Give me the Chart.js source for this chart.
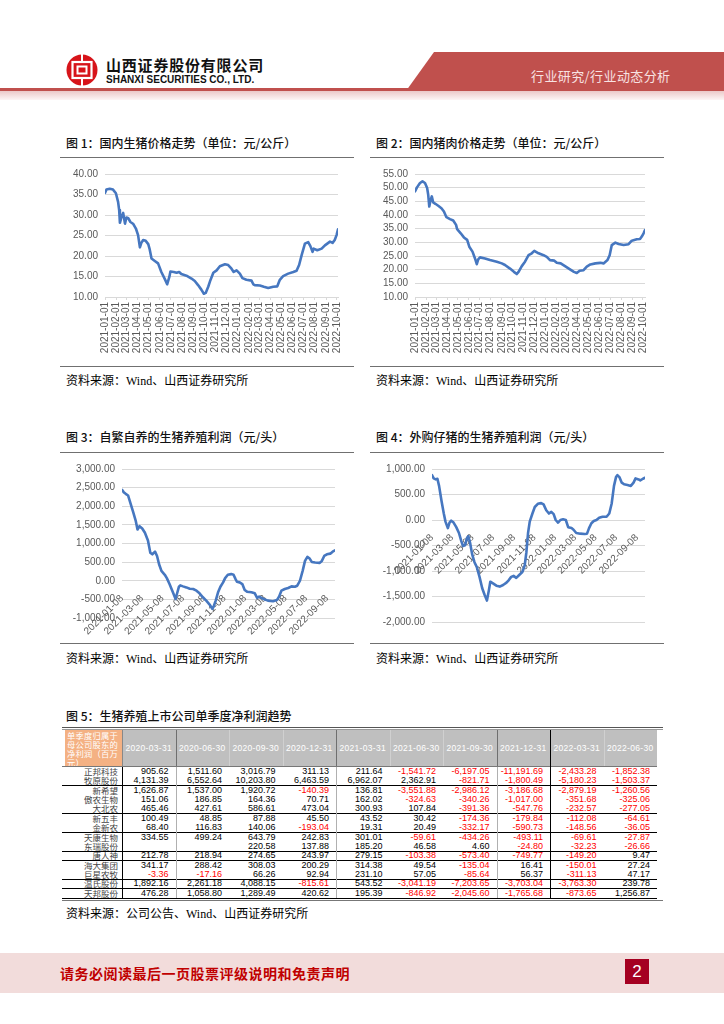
<!DOCTYPE html>
<html><head><meta charset="utf-8">
<script src="https://cdn.jsdelivr.net/npm/chart.js@4.4.1/dist/chart.umd.min.js"></script>
<style>
html,body{margin:0;padding:0}
body{width:724px;height:1024px;position:relative;background:#fff;font-family:"Noto Sans CJK SC",sans-serif;overflow:hidden}
.abs{position:absolute}
.ftitle{position:absolute;font-size:12px;color:#111;line-height:14px;white-space:nowrap;font-weight:500}
.hline{position:absolute;height:1px;background:#707070}
.src{position:absolute;font-size:12px;line-height:14px;font-family:"Liberation Serif","Noto Sans CJK SC",serif;white-space:nowrap;color:#000}
canvas{position:absolute}
.cell{position:absolute;box-sizing:border-box;white-space:nowrap;overflow:visible}
</style></head>
<body>
<!-- header -->
<svg class="abs" style="left:0;top:0" width="724" height="110">
  <defs>
    <linearGradient id="pg" x1="0" y1="0" x2="0" y2="1">
      <stop offset="0" stop-color="#ebc9c9"/><stop offset="1" stop-color="#fdf6f6"/>
    </linearGradient>
  </defs>
  <rect x="0" y="91" width="724" height="9" fill="url(#pg)"/>
  <rect x="0" y="88" width="410" height="3" fill="#c0504d"/>
  <polygon points="434,52 724,52 724,91 406,91" fill="#c0504d"/>
  <g transform="translate(66,54)">
    <circle cx="16" cy="16" r="15.5" fill="#d7141a"/>
    <rect x="6.5" y="8" width="19" height="16" fill="none" stroke="#fff" stroke-width="2.2"/>
    <rect x="11.5" y="12.5" width="9" height="7" fill="none" stroke="#fff" stroke-width="2"/>
    <line x1="16" y1="0" x2="16" y2="8" stroke="#fff" stroke-width="2"/>
    <line x1="16" y1="24" x2="16" y2="32" stroke="#fff" stroke-width="2"/>
  </g>
</svg>
<div class="abs" style="left:106px;top:56px;font-size:15px;font-weight:bold;letter-spacing:0.8px;color:#111;line-height:17px;white-space:nowrap">山西证券股份有限公司</div>
<div class="abs" style="left:106px;top:74px;font-size:10px;font-weight:bold;font-family:'Liberation Sans',Arial,sans-serif;color:#111;line-height:12px;white-space:nowrap">SHANXI SECURITIES CO., LTD.</div>
<div class="abs" style="left:531px;top:67px;font-size:13px;color:#f8e2e2;line-height:17px;letter-spacing:0.4px;white-space:nowrap">行业研究/行业动态分析</div>

<!-- chart titles -->
<div class="ftitle" style="left:66px;top:136px">图 1：国内生猪价格走势（单位：元/公斤）</div>
<div class="hline" style="left:60px;top:157px;width:294px"></div>
<div class="hline" style="left:60px;top:366px;width:294px"></div>
<div class="src" style="left:66px;top:374px">资料来源：Wind、山西证券研究所</div>

<div class="ftitle" style="left:376px;top:136px">图 2：国内猪肉价格走势（单位：元/公斤）</div>
<div class="hline" style="left:370px;top:157px;width:294px"></div>
<div class="hline" style="left:370px;top:366px;width:294px"></div>
<div class="src" style="left:376px;top:374px">资料来源：Wind、山西证券研究所</div>

<div class="ftitle" style="left:66px;top:430px">图 3：自繁自养的生猪养殖利润（元/头）</div>
<div class="hline" style="left:60px;top:452px;width:294px"></div>
<div class="hline" style="left:60px;top:643px;width:294px"></div>
<div class="src" style="left:66px;top:652px">资料来源：Wind、山西证券研究所</div>

<div class="ftitle" style="left:376px;top:430px">图 4：外购仔猪的生猪养殖利润（元/头）</div>
<div class="hline" style="left:370px;top:452px;width:294px"></div>
<div class="hline" style="left:370px;top:643px;width:294px"></div>
<div class="src" style="left:376px;top:652px">资料来源：Wind、山西证券研究所</div>

<canvas id="c1" width="295" height="200" style="left:60px;top:160px"></canvas>
<canvas id="c2" width="295" height="200" style="left:370px;top:160px"></canvas>
<canvas id="c3" width="295" height="180" style="left:60px;top:455px"></canvas>
<canvas id="c4" width="295" height="180" style="left:370px;top:455px"></canvas>

<div class="ftitle" style="left:66px;top:709px">图 5：生猪养殖上市公司单季度净利润趋势</div>
<div id="tbl"></div>
<div class="src" style="left:66px;top:907px">资料来源：公司公告、Wind、山西证券研究所</div>

<!-- footer -->
<div class="abs" style="left:0;top:953px;width:724px;height:40px;background:#f2dcdb"></div>
<div class="abs" style="left:60px;top:963px;font-size:14px;font-weight:bold;color:#c00000;line-height:20px;letter-spacing:0.5px;white-space:nowrap">请务必阅读最后一页股票评级说明和免责声明</div>
<div class="abs" style="left:625px;top:959px;width:24px;height:25px;background:#a50021;color:#fff;font-size:17px;line-height:25px;text-align:center;font-family:'Liberation Sans',Arial,sans-serif">2</div>

<script>
// ---------------- data ----------------
const monthTicks = ['2021-01-01','2021-02-01','2021-03-01','2021-04-01','2021-05-01','2021-06-01','2021-07-01','2021-08-01','2021-09-01','2021-10-01','2021-11-01','2021-12-01','2022-01-01','2022-02-01','2022-03-01','2022-04-01','2022-05-01','2022-06-01','2022-07-01','2022-08-01','2022-09-01','2022-10-01'];
const profitTicks = ['2021-01-08','2021-03-08','2021-05-08','2021-07-08','2021-09-08','2021-11-08','2022-01-08','2022-03-08','2022-05-08','2022-07-08','2022-09-08'];

// Fig 1: live hog price (yuan/kg)
const hogDates = ['2021-01-01','2021-01-05','2021-01-14','2021-01-23','2021-01-31','2021-02-06','2021-02-09','2021-02-11','2021-02-15','2021-02-20','2021-02-25','2021-03-01','2021-03-06','2021-03-12','2021-03-20','2021-03-27','2021-04-02','2021-04-07','2021-04-11','2021-04-16','2021-04-23','2021-04-30','2021-05-04','2021-05-09','2021-05-18','2021-05-27','2021-06-05','2021-06-15','2021-06-21','2021-06-27','2021-06-30','2021-07-09','2021-07-17','2021-07-24','2021-07-30','2021-08-13','2021-08-27','2021-09-05','2021-09-14','2021-09-23','2021-09-30','2021-10-05','2021-10-12','2021-10-18','2021-10-26','2021-11-04','2021-11-13','2021-11-27','2021-12-06','2021-12-15','2021-12-21','2021-12-29','2022-01-07','2022-01-14','2022-01-25','2022-02-08','2022-02-13','2022-02-17','2022-03-03','2022-03-14','2022-03-26','2022-04-09','2022-04-20','2022-04-27','2022-05-06','2022-05-20','2022-06-03','2022-06-12','2022-06-19','2022-06-26','2022-07-05','2022-07-14','2022-07-20','2022-07-26','2022-07-29','2022-08-08','2022-08-20','2022-08-29','2022-09-12','2022-09-19','2022-09-25','2022-09-30','2022-10-04'];
const hogPrices = [35.4,36.2,36.4,36.2,35.3,33.2,31.2,28.1,29.4,30.5,27.9,29.4,29.2,28.3,27.8,26.7,25.1,22.1,23.2,23.9,23.7,22.9,21.6,19.4,18.8,18.2,16.1,14.3,13.1,14.9,16.2,16.1,15.9,16.1,15.6,15.2,14.5,13.9,12.9,11.8,10.8,11.0,12.5,14.1,15.9,16.5,17.5,18.0,17.8,16.9,16.1,16.5,15.7,14.6,14.2,14.0,13.1,12.9,12.8,12.5,12.2,12.5,12.6,14.2,15.1,15.7,16.1,16.4,17.8,20.2,23.0,23.4,22.4,21.0,21.8,21.4,21.8,22.6,23.5,23.2,23.9,25.1,26.5];

// Fig 2: pork price (yuan/kg)
const porkDates = ['2021-01-01','2021-01-07','2021-01-15','2021-01-22','2021-01-29','2021-02-04','2021-02-07','2021-02-10','2021-02-13','2021-02-17','2021-02-21','2021-02-27','2021-03-07','2021-03-16','2021-03-23','2021-03-30','2021-04-09','2021-04-18','2021-04-26','2021-04-29','2021-05-09','2021-05-18','2021-05-27','2021-06-02','2021-06-11','2021-06-18','2021-06-23','2021-06-27','2021-07-02','2021-07-16','2021-07-30','2021-08-18','2021-09-01','2021-09-10','2021-09-24','2021-10-05','2021-10-13','2021-10-18','2021-10-27','2021-11-05','2021-11-15','2021-11-24','2021-12-01','2021-12-13','2021-12-27','2022-01-05','2022-01-14','2022-01-26','2022-02-02','2022-02-13','2022-02-25','2022-03-11','2022-03-22','2022-03-30','2022-04-07','2022-04-18','2022-04-27','2022-05-07','2022-05-21','2022-06-04','2022-06-13','2022-06-24','2022-06-30','2022-07-06','2022-07-16','2022-07-25','2022-08-08','2022-08-22','2022-08-31','2022-09-14','2022-09-23','2022-09-28','2022-10-03','2022-10-07'];
const porkPrices = [48.6,50.2,51.7,52.3,51.7,49.9,47.4,43.1,45.0,46.8,44.6,44.1,43.4,42.5,41.3,39.2,38.5,38.0,36.4,34.8,33.3,31.8,30.9,28.4,26.6,24.1,22.0,23.8,24.5,24.1,23.5,22.9,22.3,21.7,20.4,19.2,18.4,19.2,21.3,22.9,25.3,26.0,26.9,26.0,25.3,24.7,23.5,23.3,22.5,22.3,21.3,20.1,19.2,18.8,19.6,19.8,21.1,21.9,22.3,22.5,22.3,23.5,25.3,29.0,29.9,29.4,29.0,29.3,30.6,31.1,31.2,32.1,33.3,34.5];

// Fig 3: self-bred profit (yuan/head)
const selfDates = ['2021-01-08','2021-01-13','2021-01-19','2021-01-26','2021-02-02','2021-02-10','2021-02-18','2021-02-23','2021-03-01','2021-03-09','2021-03-17','2021-03-26','2021-04-02','2021-04-08','2021-04-16','2021-04-22','2021-04-28','2021-05-05','2021-05-15','2021-05-21','2021-05-29','2021-06-08','2021-06-16','2021-06-20','2021-06-26','2021-06-30','2021-07-08','2021-07-18','2021-07-28','2021-08-07','2021-08-17','2021-08-26','2021-09-05','2021-09-15','2021-09-25','2021-10-03','2021-10-07','2021-10-13','2021-10-20','2021-10-27','2021-11-04','2021-11-10','2021-11-18','2021-11-28','2021-12-05','2021-12-11','2021-12-15','2021-12-23','2021-12-31','2022-01-07','2022-01-14','2022-01-27','2022-02-06','2022-02-13','2022-02-19','2022-02-26','2022-03-04','2022-03-17','2022-04-01','2022-04-13','2022-04-19','2022-04-26','2022-05-06','2022-05-16','2022-05-26','2022-06-05','2022-06-12','2022-06-20','2022-06-28','2022-07-05','2022-07-12','2022-07-18','2022-07-25','2022-08-04','2022-08-17','2022-08-24','2022-08-31','2022-09-08','2022-09-18','2022-09-25','2022-10-02'];
const selfProfit = [2441,2379,2334,2290,2086,1846,1598,1376,1465,1402,1287,1083,754,710,781,666,444,266,160,71,-89,-311,-488,-355,-160,-124,-151,-178,-213,-222,-266,-337,-444,-533,-639,-754,-692,-533,-311,-160,-44,71,160,178,160,44,-27,-44,-89,-249,-293,-311,-337,-462,-426,-462,-488,-533,-550,-515,-426,-266,-222,-195,-151,-160,-133,0,266,533,639,604,506,488,479,533,666,710,728,781,817];

// Fig 4: purchased-piglet profit (yuan/head)
const buyDates = ['2021-01-08','2021-01-13','2021-01-19','2021-01-24','2021-01-29','2021-02-05','2021-02-12','2021-02-17','2021-02-24','2021-03-01','2021-03-06','2021-03-13','2021-03-21','2021-03-29','2021-04-05','2021-04-10','2021-04-16','2021-04-22','2021-04-26','2021-05-01','2021-05-07','2021-05-14','2021-05-21','2021-05-29','2021-06-06','2021-06-13','2021-06-20','2021-06-26','2021-06-30','2021-07-08','2021-07-18','2021-07-28','2021-08-07','2021-08-17','2021-08-24','2021-08-31','2021-09-07','2021-09-15','2021-09-23','2021-10-03','2021-10-10','2021-10-15','2021-10-20','2021-10-25','2021-11-02','2021-11-09','2021-11-18','2021-11-28','2021-12-05','2021-12-13','2021-12-21','2021-12-28','2022-01-04','2022-01-10','2022-01-17','2022-01-24','2022-02-01','2022-02-09','2022-02-16','2022-02-26','2022-03-04','2022-03-12','2022-03-24','2022-04-06','2022-04-13','2022-04-19','2022-04-26','2022-05-03','2022-05-11','2022-05-19','2022-05-29','2022-06-10','2022-06-18','2022-06-25','2022-07-02','2022-07-08','2022-07-12','2022-07-18','2022-07-25','2022-08-01','2022-08-11','2022-08-21','2022-08-29','2022-09-04','2022-09-13','2022-09-18','2022-09-26','2022-10-02'];
const buyProfit = [879,815,796,809,669,382,127,-32,-159,-51,-13,-51,-140,-255,-414,-510,-497,-350,-318,-446,-669,-828,-924,-1115,-1338,-1465,-1580,-1370,-1210,-1242,-1287,-1306,-1274,-1229,-1178,-1115,-1096,-1134,-1083,-1019,-892,-637,-255,-32,127,255,318,331,306,191,127,159,115,0,-51,0,13,0,-140,-159,-191,-255,-268,-274,-268,-159,-64,-19,0,45,64,64,127,318,669,841,879,841,732,700,688,669,732,815,796,777,809,828];

// Fig 5: quarterly net profit attributable to parent (million yuan)
const quarters = ['2020-03-31','2020-06-30','2020-09-30','2020-12-31','2021-03-31','2021-06-30','2021-09-30','2021-12-31','2022-03-31','2022-06-30'];
const companies = ['正邦科技','牧原股份','新希望','傲农生物','大北农','新五丰','金新农','天康生物','东瑞股份','唐人神','海大集团','巨星农牧','温氏股份','天邦股份'];
const profits = [
  [905.62,1511.60,3016.79,311.13,211.64,-1541.72,-6197.05,-11191.69,-2433.28,-1852.38],
  [4131.39,6552.64,10203.80,6463.59,6962.07,2362.91,-821.71,-1800.49,-5180.23,-1503.37],
  [1626.87,1537.00,1920.72,-140.39,136.81,-3551.88,-2986.12,-3186.68,-2879.19,-1260.56],
  [151.06,186.85,164.36,70.71,162.02,-324.63,-340.26,-1017.00,-351.68,-325.06],
  [465.46,427.61,586.61,473.04,300.93,107.84,-391.36,-547.76,-232.57,-277.05],
  [100.49,48.85,87.88,45.50,43.52,30.42,-174.36,-179.84,-112.08,-64.61],
  [68.40,116.83,140.06,-193.04,19.31,20.49,-332.17,-590.73,-148.56,-36.05],
  [334.55,499.24,643.79,242.83,301.01,-59.61,-434.26,-493.11,-69.61,-27.87],
  [null,null,220.58,137.88,185.20,46.58,4.60,-24.80,-32.23,-26.66],
  [212.78,218.94,274.65,243.97,279.15,-103.38,-573.40,-749.77,-149.20,9.47],
  [341.17,288.42,308.03,200.29,314.38,49.54,-135.04,16.41,-150.01,27.24],
  [-3.36,-17.16,66.26,92.94,231.10,57.05,-85.64,56.37,-311.13,47.17],
  [1892.16,2261.18,4088.15,-815.61,543.52,-3041.19,-7203.65,-3703.04,-3763.30,239.78],
  [476.28,1058.80,1289.49,420.62,195.39,-846.92,-2045.60,-1765.68,-873.65,1256.87]
];
const groupEnds = [1,4,6,8,9,11,12,13];
const headerLines = ['单季度归属于','母公司股东的','净利润（百万','元）'];

// ---------------- charts ----------------
const BASE = Date.UTC(2021,0,1);
function dayNum(s){const p=s.split('-').map(Number);return (Date.UTC(p[0],p[1]-1,p[2])-BASE)/86400000;}
const LINE = '#4677c0', GRID = '#d9d9d9', TICKC = '#595959';
const TFONT = {family:"'Liberation Sans', Arial, sans-serif", size:10};
function fmt2(v){return v.toLocaleString('en-US',{minimumFractionDigits:2,maximumFractionDigits:2});}

function makeChart(id, dates, values, c){
  return new Chart(document.getElementById(id), {
    type:'line',
    data:{datasets:[{data:dates.map((d,i)=>({x:dayNum(d),y:values[i]})),borderColor:LINE,borderWidth:2.6,pointRadius:0,tension:0,fill:false,borderJoinStyle:'round',borderCapStyle:'round'}]},
    options:{
      responsive:false, animation:false, devicePixelRatio:1,
      layout:{padding:c.padding},
      plugins:{legend:{display:false},tooltip:{enabled:false}},
      scales:{
        x:{type:'linear', min:dayNum(dates[0]), max:dayNum(dates[dates.length-1]), position:c.xPos,
          afterBuildTicks:s=>{s.ticks=c.ticks.map(t=>({value:dayNum(t)}));},
          ticks:{autoSkip:false,minRotation:c.rot,maxRotation:c.rot,font:TFONT,color:TICKC,padding:c.xPad,callback:(v,i)=>c.ticks[i]},
          grid:c.xGrid, border:{display:c.xBorder,color:GRID},
          afterFit:s=>{s.height=c.xH;}},
        y:{min:c.ymin,max:c.ymax,
          ticks:{stepSize:c.step,autoSkip:false,font:TFONT,color:TICKC,padding:7,callback:c.yfmt},
          grid:{color:GRID,drawTicks:false,lineWidth:1}, border:{display:false},
          afterFit:s=>{s.width=c.yW;}}
      }
    }
  });
}
const monthGrid = {display:true,drawOnChartArea:false,drawTicks:true,tickLength:3,color:GRID};
makeChart('c1', hogDates, hogPrices, {padding:{top:14,right:17,bottom:0,left:0}, xPos:'bottom', ticks:monthTicks, rot:90, xPad:2, xGrid:monthGrid, xBorder:true, xH:63, ymin:10, ymax:40, step:5, yfmt:v=>v.toFixed(2), yW:45});
makeChart('c2', porkDates, porkPrices, {padding:{top:14,right:20,bottom:0,left:0}, xPos:'bottom', ticks:monthTicks, rot:90, xPad:2, xGrid:monthGrid, xBorder:true, xH:63, ymin:10, ymax:55, step:5, yfmt:v=>v.toFixed(2), yW:45});
makeChart('c3', selfDates, selfProfit, {padding:{top:14,right:20,bottom:17,left:0}, xPos:{y:0}, ticks:profitTicks, rot:45, xPad:4, xGrid:{display:false}, xBorder:false, xH:0, ymin:-1000, ymax:3000, step:500, yfmt:fmt2, yW:62});
makeChart('c4', buyDates, buyProfit, {padding:{top:14,right:20,bottom:9,left:0}, xPos:{y:0}, ticks:profitTicks, rot:45, xPad:4, xGrid:{display:false}, xBorder:false, xH:0, ymin:-2000, ymax:1000, step:500, yfmt:fmt2, yW:62});

// ---------------- table ----------------
(function(){
  const root = document.getElementById('tbl');
  const L0 = 62, LW = 60, CW = 53.5, HT = 730, HH = 37, RH = 9.36;
  const R0 = HT + HH;
  const add = (css, html) => {const d=document.createElement('div');d.className='cell';d.style.cssText=css;if(html!==undefined)d.innerHTML=html;root.appendChild(d);return d;};
  const right = L0 + LW + CW*quarters.length;
  // top double line
  add(`left:${L0}px;top:727px;width:${663-L0}px;height:1px;background:#555`);
  add(`left:${L0}px;top:729px;width:${663-L0}px;height:1px;background:#999`);
  // header orange cell
  add(`left:${L0+3}px;top:${HT}px;width:${LW-3}px;height:${HH}px;background:#f4b183`);
  headerLines.forEach((t,k)=>{
    add(`left:${L0+5}px;top:${HT+0.5+k*9.2}px;height:9.2px;line-height:9.2px;color:#fff;font-size:8.3px;letter-spacing:0.2px`, t);
  });
  // header gray cells
  add(`left:${L0+LW}px;top:${HT}px;width:${right-(L0+LW)}px;height:${HH}px;background:#bfbfbf`);
  quarters.forEach((q,j)=>{
    add(`left:${L0+LW+j*CW}px;top:${HT}px;width:${CW}px;height:${HH}px;line-height:${HH}px;text-align:center;color:#fff;font-size:8.5px;font-family:'Liberation Sans',Arial,sans-serif;letter-spacing:0.3px`, q);
  });
  // header separators
  [1,4,7].forEach(j=>add(`left:${L0+LW+j*CW}px;top:${HT}px;width:1px;height:${HH}px;background:#6f6f6f`));
  [2,3,5,6,9].forEach(j=>add(`left:${L0+LW+j*CW}px;top:${HT}px;width:1px;height:${HH}px;background:#d0d0d0`));
  add(`left:${L0+LW}px;top:${HT}px;width:1px;height:${HH}px;background:#888`);
  // header bottom
  add(`left:${L0}px;top:${R0-1}px;width:${right-L0}px;height:1px;background:#777`);
  // rows
  companies.forEach((name,i)=>{
    const top = R0 + i*RH;
    add(`left:${L0}px;top:${top}px;width:${LW-4}px;height:${RH}px;line-height:${RH}px;text-align:right;font-size:8.5px;color:#444`, name);
    profits[i].forEach((v,j)=>{
      if(v===null) return;
      add(`left:${L0+LW+j*CW}px;top:${top}px;width:${CW}px;height:${RH}px;line-height:${RH}px;text-align:right;padding-right:7px;font-size:9px;font-family:'Liberation Sans',Arial,sans-serif;color:${v<0?'#ff0000':'#000'}`, fmt2(v));
    });
  });
  const R1 = R0 + companies.length*RH;
  // group lines
  groupEnds.forEach(i=>{
    const y = R0 + (i+1)*RH;
    add(`left:${L0}px;top:${y-0.5}px;width:${right-L0}px;height:1px;background:#000`);
  });
  add(`left:${L0}px;top:${R1+1.5}px;width:${663-L0}px;height:1px;background:#777`);
  // vertical lines in body
  add(`left:${L0+LW}px;top:${R0}px;width:1px;height:${R1-R0}px;background:#000`);
  add(`left:${L0+LW+8*CW}px;top:${HT}px;width:1px;height:${R1-HT}px;background:#000`);
  [1,4,7].forEach(j=>add(`left:${L0+LW+j*CW}px;top:${R0}px;width:1px;height:${R1-R0}px;background:#b0b0b0`));
})();
</script>
</body></html>
